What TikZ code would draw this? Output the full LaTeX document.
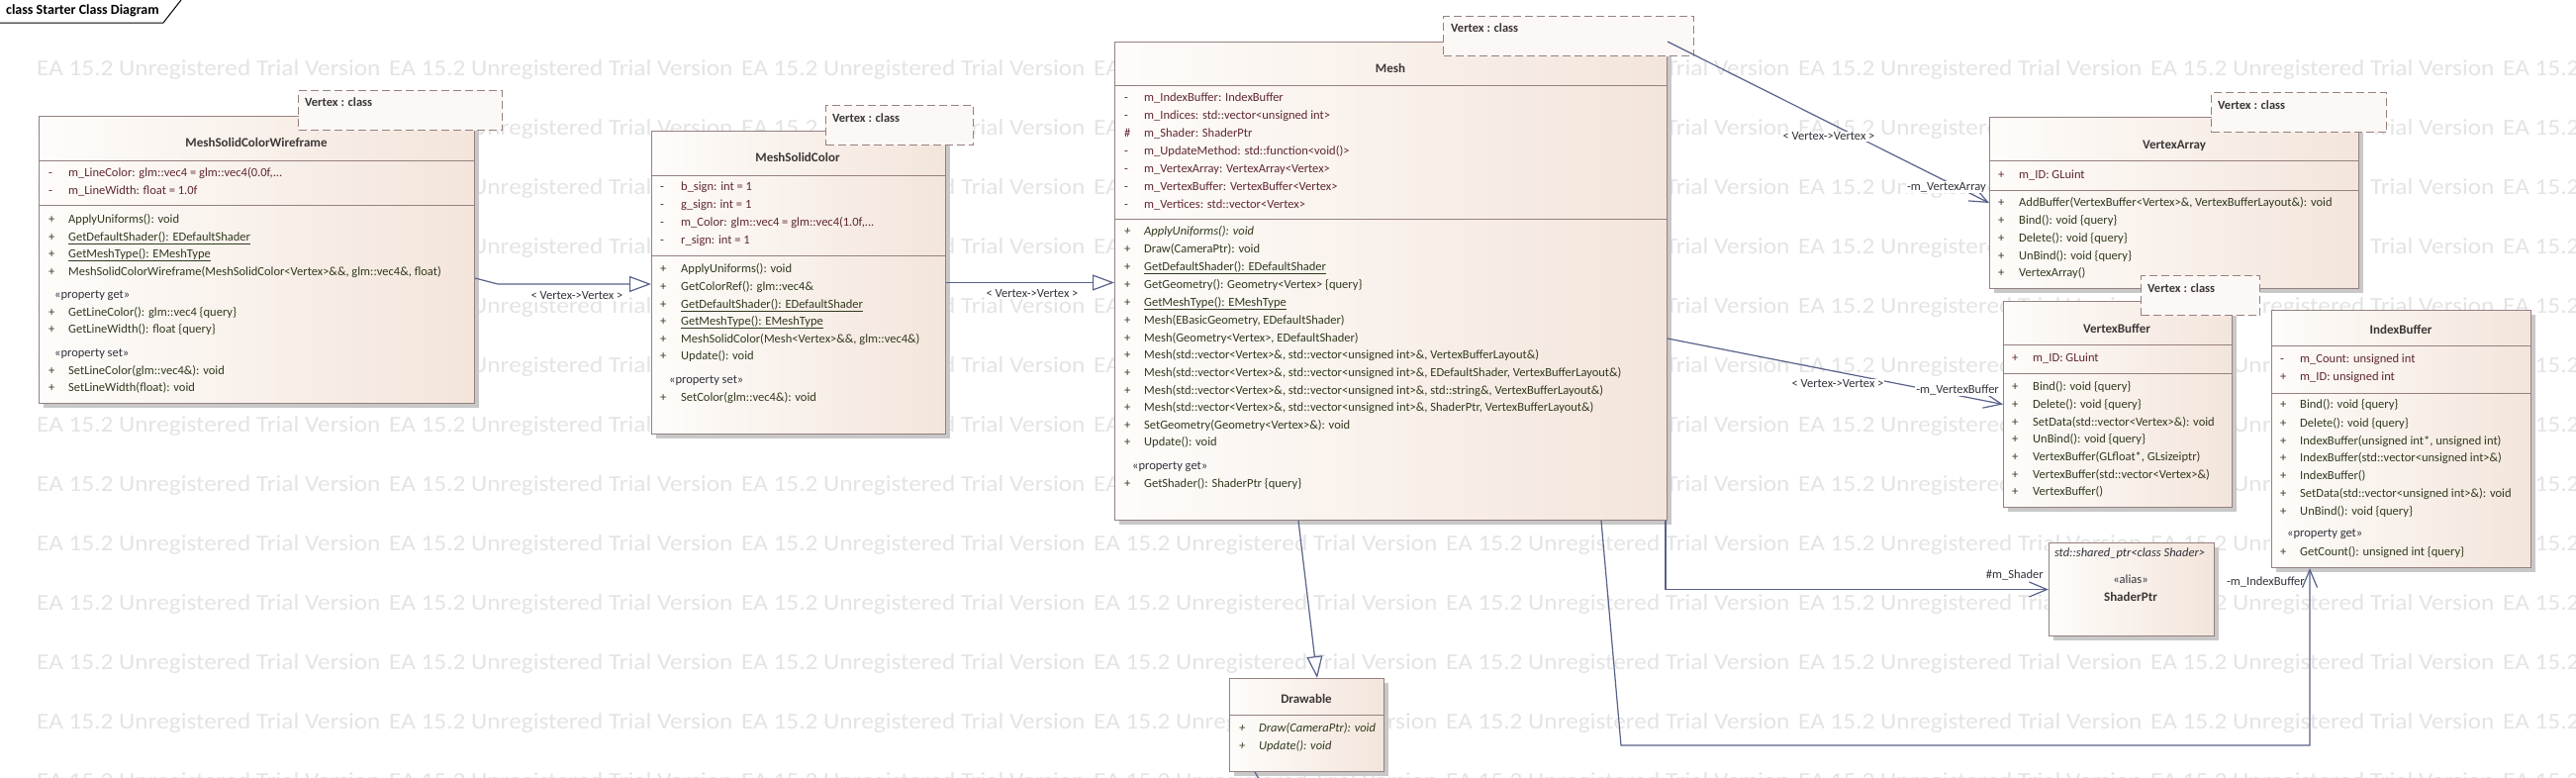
\documentclass[tikz,border=0pt]{standalone}
\usepackage{fontspec}
\setmainfont{Carlito}
\usetikzlibrary{arrows.meta,shadows,calc}
\definecolor{boxc}{RGB}{150,128,128}
\definecolor{boxl}{RGB}{254,252,250}
\definecolor{boxr}{RGB}{243,229,219}
\definecolor{tabc}{RGB}{252,248,246}
\definecolor{linec}{RGB}{88,98,138}
\definecolor{wm}{RGB}{228,228,228}
\definecolor{attrc}{RGB}{95,40,50}
\definecolor{methc}{RGB}{50,58,30}
\definecolor{titc}{RGB}{60,55,55}
\definecolor{lblc}{RGB}{50,50,60}
\newcounter{rn}
\newcommand\rw[6]{%
 \stepcounter{rn}%
 \node[rowtxt,#1] (v\arabic{rn}) at (#2,#4) {#5};
 \node[rowtxt,#1] (t\arabic{rn}) at (#3,#4) {#6};}
\newcommand\cbox[5]{%
 \node[classbox, minimum width={#4pt-#2pt}, minimum height={#5pt-#3pt}] (#1) at (#2,#3) {};}
\newcommand\vtab[7]{%
 \node[vtabbox, minimum width={#4pt-#2pt}, minimum height={#5pt-#3pt}] (#1) at (#2,#3) {};
 \node[tabtxt] (#1t) at (#6,#7) {Vertex : class};}
\tikzset{
 classbox/.style={draw=boxc, line width=1pt, shading=axis, left color=boxl, right color=boxr, anchor=north west, inner sep=0pt,
   drop shadow={shadow xshift=4pt, shadow yshift=-4pt, fill={rgb,255:red,200;green,200;blue,200}, opacity=1}},
 vtabbox/.style={draw=boxc, line width=1pt, dash pattern=on 8pt off 4pt, fill=tabc, anchor=north west, inner sep=0pt},
 tabtxt/.style={anchor=west, inner sep=0pt, text=titc, font=\fontsize{12.5}{14}\selectfont\bfseries},
 rowtxt/.style={anchor=west, inner sep=0pt, text height=9pt, text depth=3pt, font=\fontsize{12.5}{14}\selectfont},
 atxt/.style={text=attrc},
 mtxt/.style={text=methc},
 mitx/.style={text=methc, font=\fontsize{12.5}{14}\selectfont\itshape},
 sttx/.style={text=lblc},
 ctitle/.style={inner sep=0pt, text=titc, font=\fontsize{13}{15}\selectfont\bfseries},
 sepline/.style={draw=boxc, line width=1pt},
 wmk/.style={anchor=west, inner sep=0pt, text=wm, font=\fontsize{23}{26}\selectfont},
 conn/.style={draw=linec, line width=1.2pt},
 gen/.style={conn, -{Triangle[length=22pt, width=16pt, fill=white]}},
 assoc/.style={conn, -{Straight Barb[length=18pt, width=15pt]}},
 lbl/.style={fill=white, inner sep=1pt, text=lblc, font=\fontsize{12.5}{14}\selectfont},
}
\begin{document}
\begin{tikzpicture}[x=1pt,y=-1pt]
\useasboundingbox (0,0) rectangle (2603,785);
\clip (0,0) rectangle (2603,785);
\fill[white] (0,0) rectangle (2603,785);
% watermark
\foreach \j in {0,...,12} {
  \foreach \k in {0,...,7} {
    \node[wmk] (w-\j-\k) at (37+356*\k, 70+60*\j) {\scalebox{1.1}[1]{EA 15.2 Unregistered Trial Version}};
  }
}
% frame title
\node[anchor=west, inner sep=0pt, font=\fontsize{14}{16}\selectfont\bfseries] (frametitle) at (6,11) {class Starter Class Diagram};
\draw[line width=1pt] (0,23) -- (165,23) -- (183,0);

% class boxes
\cbox{wire}{39}{117}{479}{407}
\cbox{msc}{658}{132}{955}{438}
\cbox{mesh}{1126}{42}{1684}{525}
\cbox{va}{2010}{118}{2383}{291}
\cbox{vb}{2024}{304}{2255}{512}
\cbox{ib}{2295}{313}{2557}{573}
\cbox{drawable}{1242}{685}{1398}{779}
\cbox{shaderptr}{2070}{548}{2237}{642}
% separators
\draw[sepline] (39,162) -- (479,162); \draw[sepline] (39,207) -- (479,207);
\draw[sepline] (658,177) -- (955,177); \draw[sepline] (658,258) -- (955,258);
\draw[sepline] (1126,86) -- (1684,86); \draw[sepline] (1126,221) -- (1684,221);
\draw[sepline] (2010,162) -- (2383,162); \draw[sepline] (2010,192) -- (2383,192);
\draw[sepline] (2024,348) -- (2255,348); \draw[sepline] (2024,377) -- (2255,377);
\draw[sepline] (2295,349) -- (2557,349); \draw[sepline] (2295,397) -- (2557,397);
\draw[sepline] (1242,722) -- (1398,722);
% template tabs
\vtab{tabwire}{301}{91}{507}{131}{308}{103}
\vtab{tabmsc}{834}{106}{983}{146}{841}{119}
\vtab{tabmesh}{1458}{16}{1711}{56}{1466}{28}
\vtab{tabva}{2234}{93}{2411}{133}{2241}{106}
\vtab{tabvb}{2163}{278}{2283}{318}{2170}{291}

% titles
\node[ctitle] (wiret) at (259,144) {MeshSolidColorWireframe};
\node[ctitle] (msct) at (806,159) {MeshSolidColor};
\node[ctitle] (mesht) at (1405,69) {Mesh};
\node[ctitle] (vat) at (2197,147) {VertexArray};
\node[ctitle] (vbt) at (2139,332) {VertexBuffer};
\node[ctitle] (ibt) at (2426,333) {IndexBuffer};
\node[ctitle] (drawt) at (1320,706) {Drawable};
\node[rowtxt, sttx, font=\fontsize{12.5}{14}\selectfont\itshape, anchor=center] (spt1) at (2152,559) {std::shared\_ptr<class Shader>};
\node[rowtxt, sttx, anchor=center] (spt2) at (2153,586) {«alias»};
\node[ctitle] (spt3) at (2153,603) {ShaderPtr};

% MeshSolidColorWireframe
\rw{atxt}{49}{69}{175}{-}{m\_LineColor: glm::vec4 = glm::vec4(0.0f,...}
\rw{atxt}{49}{69}{193}{-}{m\_LineWidth: float = 1.0f}
\rw{mtxt}{49}{69}{222}{+}{ApplyUniforms(): void}
\rw{mtxt}{49}{69}{240}{+}{\underline{GetDefaultShader(): EDefaultShader}}
\rw{mtxt}{49}{69}{257}{+}{\underline{GetMeshType(): EMeshType}}
\rw{mtxt}{49}{69}{275}{+}{MeshSolidColorWireframe(MeshSolidColor<Vertex>\&\&, glm::vec4\&, float)}
\node[rowtxt, sttx] (wps1) at (55,298) {«property get»};
\rw{mtxt}{49}{69}{316}{+}{GetLineColor(): glm::vec4 \{query\}}
\rw{mtxt}{49}{69}{333}{+}{GetLineWidth(): float \{query\}}
\node[rowtxt, sttx] (wps2) at (55,357) {«property set»};
\rw{mtxt}{49}{69}{375}{+}{SetLineColor(glm::vec4\&): void}
\rw{mtxt}{49}{69}{392}{+}{SetLineWidth(float): void}

% MeshSolidColor
\rw{atxt}{667}{688}{189}{-}{b\_sign: int = 1}
\rw{atxt}{667}{688}{207}{-}{g\_sign: int = 1}
\rw{atxt}{667}{688}{225}{-}{m\_Color: glm::vec4 = glm::vec4(1.0f,...}
\rw{atxt}{667}{688}{243}{-}{r\_sign: int = 1}
\rw{mtxt}{667}{688}{272}{+}{ApplyUniforms(): void}
\rw{mtxt}{667}{688}{290}{+}{GetColorRef(): glm::vec4\&}
\rw{mtxt}{667}{688}{308}{+}{\underline{GetDefaultShader(): EDefaultShader}}
\rw{mtxt}{667}{688}{325}{+}{\underline{GetMeshType(): EMeshType}}
\rw{mtxt}{667}{688}{343}{+}{MeshSolidColor(Mesh<Vertex>\&\&, glm::vec4\&)}
\rw{mtxt}{667}{688}{360}{+}{Update(): void}
\node[rowtxt, sttx] (mscps) at (676,384) {«property set»};
\rw{mtxt}{667}{688}{402}{+}{SetColor(glm::vec4\&): void}

% Mesh
\rw{atxt}{1136}{1156}{99}{-}{m\_IndexBuffer: IndexBuffer}
\rw{atxt}{1136}{1156}{117}{-}{m\_Indices: std::vector<unsigned int>}
\rw{atxt}{1136}{1156}{135}{\#}{m\_Shader: ShaderPtr}
\rw{atxt}{1136}{1156}{153}{-}{m\_UpdateMethod: std::function<void()>}
\rw{atxt}{1136}{1156}{171}{-}{m\_VertexArray: VertexArray<Vertex>}
\rw{atxt}{1136}{1156}{189}{-}{m\_VertexBuffer: VertexBuffer<Vertex>}
\rw{atxt}{1136}{1156}{207}{-}{m\_Vertices: std::vector<Vertex>}
\rw{mitx}{1136}{1156}{234}{+}{ApplyUniforms(): void}
\rw{mtxt}{1136}{1156}{252}{+}{Draw(CameraPtr): void}
\rw{mtxt}{1136}{1156}{270}{+}{\underline{GetDefaultShader(): EDefaultShader}}
\rw{mtxt}{1136}{1156}{288}{+}{GetGeometry(): Geometry<Vertex> \{query\}}
\rw{mtxt}{1136}{1156}{306}{+}{\underline{GetMeshType(): EMeshType}}
\rw{mtxt}{1136}{1156}{324}{+}{Mesh(EBasicGeometry, EDefaultShader)}
\rw{mtxt}{1136}{1156}{342}{+}{Mesh(Geometry<Vertex>, EDefaultShader)}
\rw{mtxt}{1136}{1156}{359}{+}{Mesh(std::vector<Vertex>\&, std::vector<unsigned int>\&, VertexBufferLayout\&)}
\rw{mtxt}{1136}{1156}{377}{+}{Mesh(std::vector<Vertex>\&, std::vector<unsigned int>\&, EDefaultShader, VertexBufferLayout\&)}
\rw{mtxt}{1136}{1156}{395}{+}{Mesh(std::vector<Vertex>\&, std::vector<unsigned int>\&, std::string\&, VertexBufferLayout\&)}
\rw{mtxt}{1136}{1156}{412}{+}{Mesh(std::vector<Vertex>\&, std::vector<unsigned int>\&, ShaderPtr, VertexBufferLayout\&)}
\rw{mtxt}{1136}{1156}{430}{+}{SetGeometry(Geometry<Vertex>\&): void}
\rw{mtxt}{1136}{1156}{447}{+}{Update(): void}
\node[rowtxt, sttx] (meshps) at (1144,471) {«property get»};
\rw{mtxt}{1136}{1156}{489}{+}{GetShader(): ShaderPtr \{query\}}

% VertexArray
\rw{atxt}{2019}{2040}{177}{+}{m\_ID: GLuint}
\rw{mtxt}{2019}{2040}{205}{+}{AddBuffer(VertexBuffer<Vertex>\&, VertexBufferLayout\&): void}
\rw{mtxt}{2019}{2040}{223}{+}{Bind(): void \{query\}}
\rw{mtxt}{2019}{2040}{241}{+}{Delete(): void \{query\}}
\rw{mtxt}{2019}{2040}{259}{+}{UnBind(): void \{query\}}
\rw{mtxt}{2019}{2040}{276}{+}{VertexArray()}

% VertexBuffer
\rw{atxt}{2033}{2054}{362}{+}{m\_ID: GLuint}
\rw{mtxt}{2033}{2054}{391}{+}{Bind(): void \{query\}}
\rw{mtxt}{2033}{2054}{409}{+}{Delete(): void \{query\}}
\rw{mtxt}{2033}{2054}{427}{+}{SetData(std::vector<Vertex>\&): void}
\rw{mtxt}{2033}{2054}{444}{+}{UnBind(): void \{query\}}
\rw{mtxt}{2033}{2054}{462}{+}{VertexBuffer(GLfloat*, GLsizeiptr)}
\rw{mtxt}{2033}{2054}{480}{+}{VertexBuffer(std::vector<Vertex>\&)}
\rw{mtxt}{2033}{2054}{497}{+}{VertexBuffer()}

% IndexBuffer
\rw{atxt}{2304}{2324}{363}{-}{m\_Count: unsigned int}
\rw{atxt}{2304}{2324}{381}{+}{m\_ID: unsigned int}
\rw{mtxt}{2304}{2324}{409}{+}{Bind(): void \{query\}}
\rw{mtxt}{2304}{2324}{428}{+}{Delete(): void \{query\}}
\rw{mtxt}{2304}{2324}{446}{+}{IndexBuffer(unsigned int*, unsigned int)}
\rw{mtxt}{2304}{2324}{463}{+}{IndexBuffer(std::vector<unsigned int>\&)}
\rw{mtxt}{2304}{2324}{481}{+}{IndexBuffer()}
\rw{mtxt}{2304}{2324}{499}{+}{SetData(std::vector<unsigned int>\&): void}
\rw{mtxt}{2304}{2324}{517}{+}{UnBind(): void \{query\}}
\node[rowtxt, sttx] (ibps) at (2311,539) {«property get»};
\rw{mtxt}{2304}{2324}{558}{+}{GetCount(): unsigned int \{query\}}

% Drawable
\rw{mitx}{1252}{1272}{736}{+}{Draw(CameraPtr): void}
\rw{mitx}{1252}{1272}{754}{+}{Update(): void}

% connectors
\coordinate (wireout) at ($(wire.north east)+(0,164)$);
\coordinate (wirebend) at ($(wire.north east)+(23,170)$);
\draw[gen] (wireout) -- (wirebend) -- (wirebend -| msc.west);
\node[lbl] (l1) at (583,299) {< Vertex->Vertex >};

\draw[gen] (msc.east) -- (msc.east -| mesh.west);
\node[lbl] (l2) at (1043,297) {< Vertex->Vertex >};

\draw[assoc] (mesh.north east) -- (va.west);
\node[lbl] (l3) at (1848,138) {< Vertex->Vertex >};
\node[lbl, anchor=east] (l4) at (2008,189) {-m\_VertexArray};

\coordinate (meshvb) at ($(mesh.north east)+(0,300)$);
\draw[assoc] (meshvb) -- (vb.west);
\node[lbl] (l5) at (1857,388) {< Vertex->Vertex >};
\node[lbl, anchor=east] (l6) at (2021,394) {-m\_VertexBuffer};

\coordinate (meshsp) at ($(mesh.south east)+(-2,0)$);
\draw[assoc] (meshsp) |- (shaderptr.west);
\node[lbl, anchor=east] (l7) at (2066,581) {\#m\_Shader};

\coordinate (meshib) at ($(mesh.south west)+(492,0)$);
\coordinate (ibbend1) at (1638,753);
\coordinate (ibin) at ($(ib.south west)+(39,0)$);
\draw[assoc] (meshib) -- (ibbend1) -- (ibbend1 -| ibin) -- (ibin);
\node[lbl, anchor=east, fill=none] (l8) at (2330,588) {-m\_IndexBuffer};

\coordinate (meshdr) at ($(mesh.south west)+(186,0)$);
\coordinate (drin) at ($(drawable.north west)+(89,0)$);
\draw[gen] (meshdr) -- (drin);
\coordinate (drbot) at ($(drawable.south west)+(26,0)$);
\coordinate (drbelow) at (1274,790);
\draw[conn] (drbot) -- (drbelow);
\end{tikzpicture}
\end{document}
